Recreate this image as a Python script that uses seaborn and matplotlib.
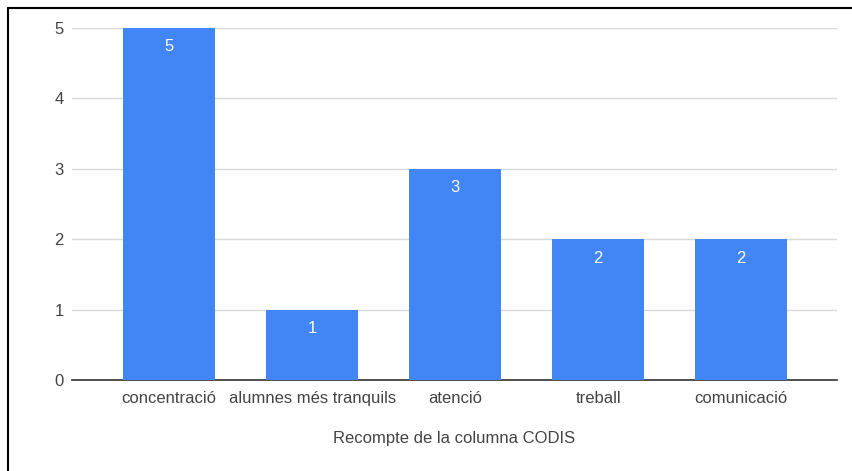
import matplotlib
matplotlib.use('Agg')
import matplotlib.pyplot as plt
import seaborn as sns
import pandas as pd
from matplotlib.lines import Line2D

# ── Data ─────────────────────────────────────────────────────────────────────
categories = ['concentració', 'alumnes més tranquils', 'atenció', 'treball', 'comunicació']
counts = [5, 1, 3, 2, 2]
x_title = 'Recompte de la columna CODIS'

BAR_COLOR = '#4285F4'
TEXT_COLOR = '#444444'

sns.set_theme(style='white')
plt.rcParams['font.family'] = ['Liberation Sans', 'DejaVu Sans']

df = pd.DataFrame({'Categoria': categories, 'Recompte': counts})

fig = plt.figure(figsize=(8.52, 4.71), dpi=100)
ax = fig.add_axes([72 / 852, 1 - 380 / 471, (837 - 72) / 852, (380 - 28) / 471])

sns.barplot(data=df, x='Categoria', y='Recompte', color=BAR_COLOR,
            width=0.64, saturation=1, ax=ax, zorder=3, linewidth=0)

# value labels inside top of bars
for container in ax.containers:
    ax.bar_label(container, labels=[str(v) for v in counts], padding=-19,
                 color='white', fontsize=12)

ax.set_xlim(-0.68, 4.67)
ax.set_ylim(0, 5)
ax.set_yticks(range(0, 6))
ax.yaxis.grid(True, color='#d9d9d9', linewidth=1, zorder=0)
ax.set_axisbelow(True)

for side in ['top', 'right', 'left']:
    ax.spines[side].set_visible(False)
ax.spines['bottom'].set_color('#333333')
ax.spines['bottom'].set_linewidth(1.2)

ax.tick_params(axis='both', length=0, labelsize=12, colors=TEXT_COLOR, pad=8)
ax.tick_params(axis='y', pad=6)
ax.set_ylabel('')
ax.set_xlabel(x_title, fontsize=12, color=TEXT_COLOR, labelpad=18)

# frame lines (top and left) like the screenshot border
fig.add_artist(Line2D([8 / 852, 8 / 852], [0, 1 - 8 / 471], transform=fig.transFigure,
                      color='black', linewidth=1.5))
fig.add_artist(Line2D([8 / 852, 1], [1 - 8 / 471, 1 - 8 / 471], transform=fig.transFigure,
                      color='black', linewidth=1.5))

fig.savefig('out.png', dpi=100, facecolor='white')
